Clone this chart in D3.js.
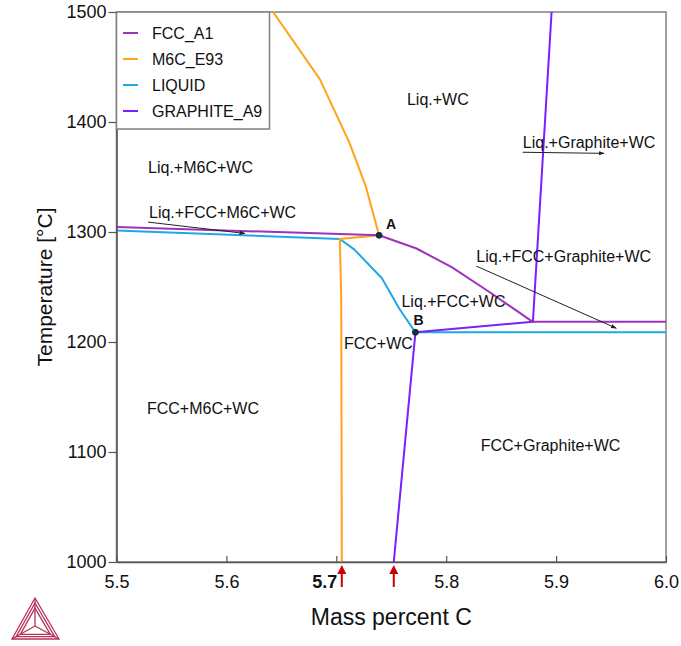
<!DOCTYPE html>
<html>
<head>
<meta charset="utf-8">
<script src="https://cdn.jsdelivr.net/npm/d3@7"></script>
<style>
  body { margin: 0; background: #fff; }
  text { font-family: Arial, "Liberation Sans", sans-serif; }
</style>
</head>
<body>
<div id="chart-area"></div>
<script>
// phase boundaries, [mass percent C, temperature]
var fccA1 = [[5.5, 1304.5], [5.7389, 1297]];
var fccA1Right = [[5.7389, 1297], [5.773, 1285], [5.805, 1268], [5.84, 1245], [5.8784, 1218.5], [6.0, 1218.5]];
var m6cE93 = [[5.6425, 1500], [5.685, 1439], [5.712, 1381], [5.727, 1341], [5.7389, 1297], [5.7032, 1293.6], [5.7045, 1240], [5.705, 1000]];
var liquid = [[5.5, 1301.4], [5.7032, 1293.6], [5.7165, 1284], [5.7415, 1258], [5.7575, 1230], [5.772, 1208.8], [6.0, 1208.8]];
var graphiteA9 = [[5.8959, 1500], [5.8789, 1218.5], [5.772, 1208.8], [5.7523, 1000]];

var pointA = [5.7389, 1297];
var pointB = [5.772, 1208.8];

var xTicks = [5.5, 5.6, 5.7, 5.8, 5.9, 6.0];
var yTicks = [1000, 1100, 1200, 1300, 1400, 1500];

var legendNames = ["FCC_A1", "M6C_E93", "LIQUID", "GRAPHITE_A9"];
var legendColors = ["#9d32bb", "#ffa31a", "#1fa8e6", "#7a1fff"];

// region labels: [text, x, T]
var regionLabels = [
  ["Liq.+WC", 5.7643, 1415.5],
  ["Liq.+M6C+WC", 5.5287, 1353.6],
  ["Liq.+FCC+M6C+WC", 5.5296, 1312.3],
  ["Liq.+Graphite+WC", 5.8697, 1376],
  ["Liq.+FCC+Graphite+WC", 5.8274, 1273],
  ["Liq.+FCC+WC", 5.7593, 1232],
  ["FCC+WC", 5.707, 1194],
  ["FCC+M6C+WC", 5.5277, 1134.5],
  ["FCC+Graphite+WC", 5.8314, 1101]
];
// label arrows: [x1, T1, x2, T2]
var labelArrows = [
  [5.5288, 1309, 5.6168, 1298.7],
  [5.8695, 1372.5, 5.9436, 1371.5],
  [5.8274, 1269, 5.9548, 1212.5]
];
var redArrowX = [5.705, 5.7523];

var W = 681, H = 646;
var margin = {top: 12, right: 15, bottom: 84, left: 116.5};

var svg = d3.select("#chart-area").append("svg")
  .attr("width", W)
  .attr("height", H);

var x = d3.scaleLinear().domain([5.5, 6.0]).range([margin.left, W - margin.right]);
var y = d3.scaleLinear().domain([1000, 1500]).range([H - margin.bottom, margin.top]);

var defs = svg.append("defs");
defs.append("marker")
  .attr("id", "blackhead")
  .attr("viewBox", "0 0 10 10")
  .attr("refX", 9).attr("refY", 5)
  .attr("markerWidth", 6).attr("markerHeight", 6)
  .attr("orient", "auto")
  .append("path").attr("d", "M0,1.5L10,5L0,8.5Z").attr("fill", "#222");

var line = d3.line()
  .x(function(d) { return x(d[0]); })
  .y(function(d) { return y(d[1]); });

// frame
svg.append("rect")
  .attr("x", x(5.5)).attr("y", y(1500))
  .attr("width", x(6.0) - x(5.5)).attr("height", y(1000) - y(1500))
  .attr("fill", "none").attr("stroke", "#808080").attr("stroke-width", 1.5);

// phase lines
function drawLine(data, color) {
  svg.append("path")
    .datum(data)
    .attr("d", line)
    .attr("fill", "none")
    .attr("stroke", color)
    .attr("stroke-width", 2)
    .attr("stroke-linejoin", "round");
}
drawLine(liquid, legendColors[2]);
drawLine(m6cE93, legendColors[1]);
drawLine(graphiteA9, legendColors[3]);
drawLine(fccA1, legendColors[0]);
drawLine(fccA1Right, legendColors[0]);

// axes
var xAxis = d3.axisBottom(x).tickValues(xTicks).tickSizeInner(-6).tickSizeOuter(0).tickPadding(10)
  .tickFormat(d3.format(".1f"));
var gx = svg.append("g").attr("transform", "translate(0," + y(1000) + ")").call(xAxis);
gx.selectAll("text").attr("font-size", 18).attr("fill", "#111").attr("dy", "0.9em")
  .attr("font-weight", function(d) { return d === 5.7 ? "bold" : "normal"; })
  .attr("dx", function(d) { return d === 5.7 ? -12 : 0; });

var yAxis = d3.axisLeft(y).tickValues(yTicks).tickSizeInner(8).tickSizeOuter(0).tickPadding(2)
  .tickFormat(d3.format("d"));
var gy = svg.append("g").attr("transform", "translate(" + x(5.5) + ",0)").call(yAxis);
gy.selectAll("text").attr("font-size", 18).attr("fill", "#111");

[gx, gy].forEach(function(g) {
  g.select(".domain").attr("stroke", "#555").attr("stroke-width", 1.5);
  g.selectAll(".tick line").attr("stroke", "#555").attr("stroke-width", 1.2);
});

// axis titles
svg.append("text")
  .attr("x", (x(5.5) + x(6.0)) / 2).attr("y", 625)
  .attr("text-anchor", "middle").attr("font-size", 23).attr("fill", "#111")
  .text("Mass percent C");
svg.append("text")
  .attr("transform", "translate(52," + (y(1250)) + ") rotate(-90)")
  .attr("text-anchor", "middle").attr("font-size", 21).attr("fill", "#111")
  .text("Temperature [°C]");

// region labels
svg.selectAll(".region")
  .data(regionLabels)
  .enter().append("text")
  .attr("class", "region")
  .attr("x", function(d) { return x(d[1]); })
  .attr("y", function(d) { return y(d[2]); })
  .attr("font-size", 16).attr("fill", "#111")
  .text(function(d) { return d[0]; });

// label arrows
svg.selectAll(".larrow")
  .data(labelArrows)
  .enter().append("line")
  .attr("class", "larrow")
  .attr("x1", function(d) { return x(d[0]); })
  .attr("y1", function(d) { return y(d[1]); })
  .attr("x2", function(d) { return x(d[2]); })
  .attr("y2", function(d) { return y(d[3]); })
  .attr("stroke", "#222").attr("stroke-width", 1)
  .attr("marker-end", "url(#blackhead)");

// invariant points
[["A", pointA, 7, -6], ["B", pointB, -2, -7]].forEach(function(p) {
  svg.append("circle")
    .attr("cx", x(p[1][0])).attr("cy", y(p[1][1])).attr("r", 3)
    .attr("fill", "#16323f").attr("stroke", "#0b1c24").attr("stroke-width", 0.8);
  svg.append("text")
    .attr("x", x(p[1][0]) + p[2]).attr("y", y(p[1][1]) + p[3])
    .attr("font-size", 14).attr("font-weight", "bold").attr("fill", "#111")
    .text(p[0]);
});

// red arrows under the axis
redArrowX.forEach(function(v) {
  var px = x(v), base = y(1000);
  svg.append("line")
    .attr("x1", px).attr("x2", px)
    .attr("y1", base + 25).attr("y2", base + 10)
    .attr("stroke", "#cc0000").attr("stroke-width", 2);
  svg.append("path")
    .attr("d", "M" + (px - 4.5) + "," + (base + 12) + "L" + px + "," + (base + 3) + "L" + (px + 4.5) + "," + (base + 12) + "Z")
    .attr("fill", "#cc0000");
});

// legend
var lg = svg.append("g");
lg.append("rect")
  .attr("x", x(5.5)).attr("y", y(1500))
  .attr("width", 153).attr("height", 117)
  .attr("fill", "#fff").attr("stroke", "#808080").attr("stroke-width", 1.5);
legendNames.forEach(function(name, i) {
  var yy = 33 + i * 26;
  lg.append("line")
    .attr("x1", 123).attr("x2", 138).attr("y1", yy).attr("y2", yy)
    .attr("stroke", legendColors[i]).attr("stroke-width", 2);
  lg.append("text")
    .attr("x", 152).attr("y", yy + 6)
    .attr("font-size", 16).attr("fill", "#111")
    .text(name);
});

// logo
var logo = svg.append("g").attr("fill", "none").attr("stroke", "#b8325a").attr("stroke-width", 1.3);
var tri = [[35, 598], [12, 639], [59, 639]];
var cen = [35, 626];
[1, 0.82, 0.64].forEach(function(s) {
  var pts = tri.map(function(p) { return [cen[0] + (p[0] - cen[0]) * s, cen[1] + (p[1] - cen[1]) * s]; });
  logo.append("path").attr("d", "M" + pts.join("L") + "Z");
});
tri.forEach(function(p) {
  logo.append("line").attr("x1", p[0]).attr("y1", p[1]).attr("x2", cen[0]).attr("y2", cen[1]);
});
</script>
</body>
</html>
